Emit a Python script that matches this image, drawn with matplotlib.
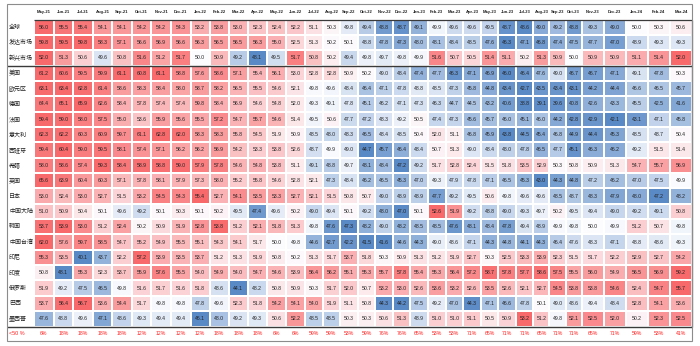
import numpy as np
import matplotlib.pyplot as plt
from matplotlib.colors import LinearSegmentedColormap, TwoSlopeNorm
from matplotlib.patches import Rectangle

plt.rcParams['font.family'] = ['Liberation Sans', 'Noto Sans CJK SC', 'DejaVu Sans']

months = ['May-21', 'Jun-21', 'Jul-21', 'Aug-21', 'Sep-21', 'Oct-21', 'Nov-21', 'Dec-21',
          'Jan-22', 'Feb-22', 'Mar-22', 'Apr-22', 'May-22', 'Jun-22', 'Jul-22', 'Aug-22',
          'Sep-22', 'Oct-22', 'Nov-22', 'Dec-22', 'Jan-23', 'Feb-23', 'Mar-23', 'Apr-23',
          'May-23', 'Jun-23', 'Jul-23', 'Aug-23', 'Sep-23', 'Oct-23', 'Nov-23', 'Dec-23',
          'Jan-24', 'Feb-24', 'Mar-24']

regions = ['全球', '发达市场', '新兴市场', '美国', '欧元区', '德国', '法国', '意大利', '西班牙',
           '希腊', '英国', '日本', '中国大陆', '韩国', '中国台湾', '印尼', '印度', '俄罗斯',
           '巴西', '墨西哥']

world = [56.0, 55.5, 55.4, 54.1, 54.1, 54.2, 54.2, 54.3, 53.2, 53.8, 53.0, 52.3, 52.4, 52.2,
         51.1, 50.3, 49.8, 49.4, 48.8, 48.7, 49.1, 49.9, 49.6, 49.6, 49.5, 48.7, 48.6, 49.0,
         49.2, 48.8, 49.3, 49.0, 50.0, 50.3, 50.6]
dm = [59.8, 59.5, 59.8, 58.3, 57.1, 56.6, 56.9, 56.6, 56.3, 56.5, 56.5, 56.3, 55.0, 52.5,
      51.3, 50.2, 50.1, 48.8, 47.8, 47.3, 48.0, 48.1, 48.4, 48.5, 47.6, 46.3, 47.1, 46.8,
      47.4, 47.5, 47.7, 47.0, 48.9, 49.3, 49.3]
em = [52.0, 51.3, 50.6, 49.6, 50.8, 51.6, 51.2, 51.7, 50.0, 50.9, 49.2, 48.1, 49.5, 51.7,
      50.8, 50.2, 49.4, 49.8, 49.7, 49.8, 49.9, 51.6, 50.7, 50.5, 51.4, 51.1, 50.2, 51.3,
      50.9, 50.0, 50.9, 50.9, 51.1, 51.4, 52.0]
us = [61.2, 60.6, 59.5, 59.9, 61.1, 60.8, 61.1, 58.8, 57.6, 58.6, 57.1, 55.4, 56.1, 53.0,
      52.8, 52.8, 50.9, 50.2, 49.0, 48.4, 47.4, 47.7, 46.3, 47.1, 46.9, 46.0, 46.4, 47.6,
      49.0, 46.7, 46.7, 47.1, 49.1, 47.8, 50.3]
ez = [63.1, 63.4, 62.8, 61.4, 58.6, 58.3, 58.4, 58.0, 58.7, 58.2, 56.5, 55.5, 54.6, 52.1,
      49.8, 49.6, 48.4, 46.4, 47.1, 47.8, 48.8, 48.5, 47.3, 45.8, 44.8, 43.4, 42.7, 43.5,
      43.4, 43.1, 44.2, 44.4, 46.6, 46.5, 45.7]
de = [64.4, 65.1, 65.9, 62.6, 58.4, 57.8, 57.4, 57.4, 59.8, 58.4, 56.9, 54.6, 54.8, 52.0,
      49.3, 49.1, 47.8, 45.1, 46.2, 47.1, 47.3, 46.3, 44.7, 44.5, 43.2, 40.6, 38.8, 39.1,
      39.6, 40.8, 42.6, 43.3, 45.5, 42.5, 41.6]
fr = [59.4, 59.0, 58.0, 57.5, 55.0, 53.6, 55.9, 55.6, 55.5, 57.2, 54.7, 55.7, 54.6, 51.4,
      49.5, 50.6, 47.7, 47.2, 48.3, 49.2, 50.5, 47.4, 47.3, 45.6, 45.7, 46.0, 45.1, 46.0,
      44.2, 42.8, 42.9, 42.1, 43.1, 47.1, 45.8]
it = [62.3, 62.2, 60.3, 60.9, 59.7, 61.1, 62.8, 62.0, 58.3, 58.3, 55.8, 54.5, 51.9, 50.9,
      48.5, 48.0, 48.3, 46.5, 48.4, 48.5, 50.4, 52.0, 51.1, 46.8, 45.9, 43.8, 44.5, 45.4,
      46.8, 44.9, 44.4, 45.3, 48.5, 48.7, 50.4]
es = [59.4, 60.4, 59.0, 59.5, 58.1, 57.4, 57.1, 56.2, 56.2, 56.9, 54.2, 53.3, 53.8, 52.6,
      48.7, 49.9, 49.0, 44.7, 45.7, 46.4, 48.4, 50.7, 51.3, 49.0, 48.4, 48.0, 47.8, 46.5,
      47.7, 45.1, 46.3, 46.2, 49.2, 51.5, 51.4]
gr = [58.0, 58.6, 57.4, 59.3, 58.4, 58.9, 58.8, 59.0, 57.9, 57.8, 54.6, 54.8, 53.8, 51.1,
      49.1, 48.8, 49.7, 48.1, 48.4, 47.2, 49.2, 51.7, 52.8, 52.4, 51.5, 51.8, 53.5, 52.9,
      50.3, 50.8, 50.9, 51.3, 54.7, 55.7, 56.9]
uk = [65.6, 63.9, 60.4, 60.3, 57.1, 57.8, 58.1, 57.9, 57.3, 58.0, 55.2, 55.8, 54.6, 52.8,
      52.1, 47.3, 48.4, 46.2, 46.5, 45.3, 47.0, 49.3, 47.9, 47.8, 47.1, 46.5, 45.3, 43.0,
      44.3, 44.8, 47.2, 46.2, 47.0, 47.5, 49.9]
jp = [53.0, 52.4, 53.0, 52.7, 51.5, 53.2, 54.5, 54.3, 55.4, 52.7, 54.1, 53.5, 53.3, 52.7,
      52.1, 51.5, 50.8, 50.7, 49.0, 48.9, 48.9, 47.7, 49.2, 49.5, 50.6, 49.8, 49.6, 49.6,
      48.5, 48.7, 48.3, 47.9, 48.0, 47.2, 48.2]
cn = [51.0, 50.9, 50.4, 50.1, 49.6, 49.2, 50.1, 50.3, 50.1, 50.2, 49.5, 47.4, 49.6, 50.2,
      49.0, 49.4, 50.1, 49.2, 48.0, 47.0, 50.1, 52.6, 51.9, 49.2, 48.8, 49.0, 49.3, 49.7,
      50.2, 49.5, 49.4, 49.0, 49.2, 49.1, 50.8]
kr = [53.7, 53.9, 53.0, 51.2, 52.4, 50.2, 50.9, 51.9, 52.8, 53.8, 51.2, 52.1, 51.8, 51.3,
      49.8, 47.6, 47.3, 48.2, 49.0, 48.2, 48.5, 48.5, 47.6, 48.1, 48.4, 47.8, 49.4, 48.9,
      49.9, 49.8, 50.0, 49.9, 51.2, 50.7, 49.8]
tw = [62.0, 57.6, 59.7, 58.5, 54.7, 55.2, 54.9, 55.5, 55.1, 54.3, 54.1, 51.7, 50.0, 49.8,
      44.6, 42.7, 42.2, 41.5, 41.6, 44.6, 44.3, 49.0, 48.6, 47.1, 44.3, 44.8, 44.1, 44.3,
      46.4, 47.6, 48.3, 47.1, 48.8, 48.6, 49.3]
idn = [55.3, 53.5, 40.1, 43.7, 52.2, 57.2, 53.9, 53.5, 53.7, 51.2, 51.3, 51.9, 50.8, 50.2,
       51.3, 51.7, 53.7, 51.8, 50.3, 50.9, 51.3, 51.2, 51.9, 52.7, 50.3, 52.5, 53.3, 53.9,
       52.3, 51.5, 51.7, 52.2, 52.9, 52.7, 54.2]
ind = [50.8, 48.1, 55.3, 52.3, 53.7, 55.9, 57.6, 55.5, 54.0, 54.9, 54.0, 54.7, 54.6, 53.9,
       56.4, 56.2, 55.1, 55.3, 55.7, 57.8, 55.4, 55.3, 56.4, 57.2, 58.7, 57.8, 57.7, 58.6,
       57.5, 55.5, 56.0, 54.9, 56.5, 56.9, 59.2]
ru = [51.9, 49.2, 47.5, 46.5, 49.8, 51.6, 51.7, 51.6, 51.8, 48.6, 44.1, 48.2, 50.8, 50.9,
      50.3, 51.7, 52.0, 50.7, 53.2, 53.0, 52.6, 53.6, 53.2, 52.6, 53.5, 52.6, 52.1, 52.7,
      54.5, 53.8, 53.8, 54.6, 52.4, 54.7, 55.7]
br = [53.7, 56.4, 56.7, 53.6, 54.4, 51.7, 49.8, 49.8, 47.8, 49.6, 52.3, 51.8, 54.2, 54.1,
      54.0, 51.9, 51.1, 50.8, 44.3, 44.2, 47.5, 49.2, 47.0, 44.3, 47.1, 46.6, 47.8, 50.1,
      49.0, 48.6, 49.4, 48.4, 52.8, 54.1, 53.6]
mx = [47.6, 48.8, 49.6, 47.1, 48.6, 49.3, 49.4, 49.4, 46.1, 48.0, 49.2, 49.3, 50.6, 52.2,
      48.5, 48.5, 50.3, 50.3, 50.6, 51.3, 48.9, 51.0, 51.0, 51.1, 50.5, 50.9, 53.2, 51.2,
      49.8, 52.1, 52.5, 52.0, 50.2, 52.3, 52.5]

below50 = ['6%', '18%', '18%', '18%', '18%', '12%', '12%', '12%', '12%', '18%', '18%', '18%',
           '6%', '6%', '59%', '59%', '53%', '59%', '76%', '76%', '65%', '53%', '53%', '71%',
           '65%', '71%', '71%', '65%', '71%', '71%', '65%', '71%', '59%', '53%', '41%']

data = np.array([world, dm, em, us, ez, de, fr, it, es, gr, uk, jp, cn, kr, tw, idn, ind, ru, br, mx])

# column widths as in the source sheet (last few months are wider)
col_w = [19.5] * 8 + [19] * 6 + [17.5] * 6 + [17.5] * 7 + [16] * 3 + [22] * 5
x_edges = np.concatenate([[0], np.cumsum(col_w)])
x_mid = (x_edges[:-1] + x_edges[1:]) / 2
total_w = x_edges[-1]

cmap = LinearSegmentedColormap.from_list('rwb', ['#5A8AC6', '#FCFCFF', '#F8696B'])

W, H = 700, 346
fig = plt.figure(figsize=(W / 100, H / 100), dpi=100)
top, bot, left, right = 19.5, 326.5, 34, 692
ax = fig.add_axes([left / W, 1 - bot / H, (right - left) / W, (bot - top) / H])
ax.set_xlim(0, total_w)
ax.set_ylim(len(regions), 0)
ax.axis('off')

px = total_w / (right - left)   # data units per pixel in x
row_px = (bot - top) / len(regions)

for i, row in enumerate(data):
    norm = TwoSlopeNorm(vmin=row.min(), vcenter=50, vmax=max(row.max(), 50.01))
    ax.pcolormesh(x_edges, [i, i + 1], row[None, :], cmap=cmap, norm=norm,
                  edgecolor='white', linewidth=0.25)
    for j, v in enumerate(row):
        ax.text(x_mid[j], i + 0.5, f'{v:.1f}', ha='center', va='center',
                fontsize=3.7, color='#222222')
    ax.text(-25 * px, i + 0.5, regions[i], ha='left', va='center', fontsize=4.3,
            color='#222222', clip_on=False)

for j, m in enumerate(months):
    ax.text(x_mid[j], -7.5 / row_px, m, ha='center', va='center', fontsize=3.0,
            fontweight='bold', color='#222222', clip_on=False)

y_pct = len(regions) + 6.5 / row_px
for j, p in enumerate(below50):
    ax.text(x_mid[j], y_pct, p, ha='center', va='center', fontsize=3.7,
            color='#FF2020', clip_on=False)
ax.text(-25 * px, y_pct, '<50 %', ha='left', va='center', fontsize=3.9,
        color='#FF2020', clip_on=False)

line_kw = dict(color='#3a3a3a', clip_on=False, solid_capstyle='butt')
ax.plot([0, total_w], [0, 0], lw=0.9, **line_kw)
ax.plot([-27 * px, total_w], [3, 3], lw=1.0, **line_kw)
ax.plot([-27 * px, total_w], [len(regions)] * 2, lw=1.0, **line_kw)
ax.plot([total_w, total_w], [0, len(regions)], lw=0.9, **line_kw)

fig.patches.append(Rectangle((7 / W, 1 - 341 / H), (692 - 7) / W, (341 - 4) / H,
                             transform=fig.transFigure, fill=False,
                             edgecolor='#8c8c8c', linewidth=0.8))

fig.savefig('out.png', dpi=100)
